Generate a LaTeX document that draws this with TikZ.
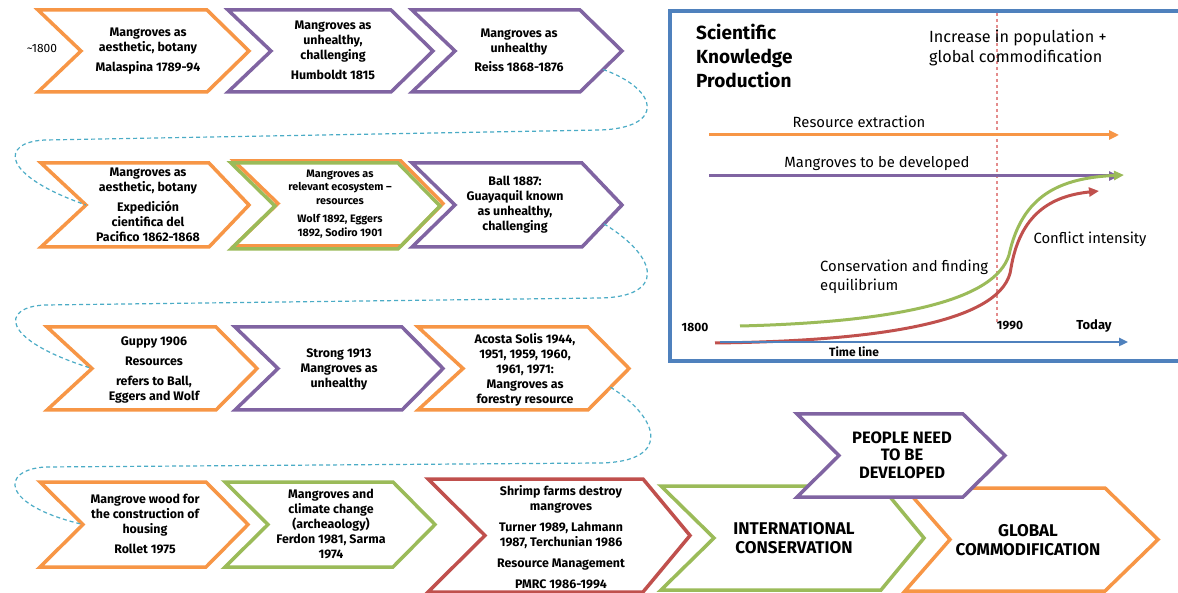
\documentclass[tikz,border=0pt]{standalone}
\usepackage{fontspec}
\setmainfont{Fira Sans}
\usetikzlibrary{arrows.meta,calc}
\definecolor{corange}{RGB}{247,150,70}
\definecolor{cpurple}{RGB}{128,100,162}
\definecolor{cgreen}{RGB}{155,187,89}
\definecolor{cred}{RGB}{192,80,77}
\definecolor{cblue}{RGB}{79,129,189}
\definecolor{cteal}{RGB}{75,172,198}
\definecolor{cdash}{RGB}{228,140,140}
% #1 name, #2 colour, #3 left x, #4 tip x, #5 top y, #6 bottom y, #7 notch depth, #8 tip depth
\newcommand\chv[8]{%
  \path[chevline,draw=#2] (#3,#5) -- ({#4-#8},#5) -- (#4,{(#5+#6)/2}) -- ({#4-#8},#6) -- (#3,#6) -- ({#3+#7},{(#5+#6)/2}) -- cycle;
  \coordinate (#1-notch) at ({#3+#7},{(#5+#6)/2});
  \coordinate (#1-tip) at (#4,{(#5+#6)/2});
  \coordinate (#1-corner) at ({#4-#8},#6);
}
\tikzset{
  chevline/.style={line width=3.5pt,fill=white,line join=miter},
  ctext/.style={align=center,inner sep=0pt,font=\fontsize{12.4}{15}\selectfont\bfseries},
  stext/.style={align=center,inner sep=0pt,font=\fontsize{10.8}{13.5}\selectfont\bfseries},
  btext/.style={align=center,inner sep=0pt,font=\fontsize{17}{19.5}\selectfont\bfseries},
  conn/.style={cteal,line width=1.2pt,dash pattern=on 4pt off 3pt},
  boxlab/.style={inner sep=0pt,font=\fontsize{14.8}{19}\selectfont},
  flow/.style={line width=3pt,-{Triangle[length=10pt,width=9pt]}},
}
\begin{document}
\begin{tikzpicture}[x=1pt,y=-1pt]
\useasboundingbox (0,0) rectangle (1178,593);
\fill[white] (0,0) rectangle (1178,593);

% ---------- row 1
\chv{r1a}{corange}{38}{249}{10}{92}{43}{42}
\chv{r1b}{cpurple}{228}{433}{10}{92}{43}{42}
\chv{r1c}{cpurple}{412}{622}{10}{92}{43}{42}
\node[inner sep=0pt,font=\fontsize{12}{13}\selectfont] (start) at (42,49) {\textasciitilde1800};
\node[ctext] (t1a) at (148,51) {Mangroves as\\aesthetic, botany\\[5pt]Malaspina 1789-94};
\node[ctext] (t1b) at (333,50) {Mangroves as\\unhealthy,\\challenging\\[5pt]Humboldt 1815};
\node[ctext] (t1c) at (519,50) {Mangroves as\\unhealthy\\[4pt]Reiss 1868-1876};

% ---------- row 2
\chv{r2a}{corange}{41}{249}{163}{247}{45}{40}
\chv{r2bs}{corange}{234}{443}{161}{246}{44}{42}
\draw[line width=3.5pt,cgreen,line join=miter] (231,163) -- (398,163) -- (440,206) -- (398,249) -- (231,249) -- (275,206) -- cycle;
\coordinate (r2b-notch) at (275,206);
\chv{r2c}{cpurple}{412}{622}{163}{247}{43}{40}
\node[ctext] (t2a) at (148,205) {Mangroves as\\aesthetic, botany\\[5pt]Expedición\\cientifica del\\Pacifico 1862-1868};
\node[stext] (t2b) at (340,204) {Mangroves as\\relevant ecosystem –\\resources\\[5pt]Wolf 1892, Eggers\\1892, Sodiro 1901};
\node[ctext] (t2c) at (515,205) {Ball 1887:\\Guayaquil known\\as unhealthy,\\challenging};

% ---------- row 3
\chv{r3a}{corange}{47}{257}{327}{410}{45}{41}
\chv{r3b}{cpurple}{235}{443}{327}{410}{43}{41}
\chv{r3c}{corange}{418}{629}{327}{410}{45}{41}
\node[ctext] (t3a) at (154,370) {Guppy 1906\\[5pt]Resources\\[5pt]refers to Ball,\\Eggers and Wolf};
\node[ctext] (t3b) at (339,369) {Strong 1913\\Mangroves as\\unhealthy};
\node[ctext] (t3c) at (525,370) {Acosta Solis 1944,\\1951, 1959, 1960,\\1961, 1971:\\Mangroves as\\forestry resource};

% ---------- row 4
\chv{r4a}{corange}{40}{248}{482}{567}{43}{42}
\chv{r4b}{cgreen}{225}{435}{482}{567}{43}{42}
\chv{r4c}{cred}{428}{690}{479}{592}{57}{47}
\chv{r4d}{cgreen}{661}{924}{486}{590}{53}{43}
\chv{r4e}{corange}{905}{1158}{488}{591}{45}{53}
\chv{r4f}{cpurple}{797}{1005}{414}{497}{42}{42}
\node[ctext] (t4a) at (145,524) {Mangrove wood for\\the construction of\\housing\\[5pt]Rollet 1975};
\node[ctext] (t4b) at (331,524) {Mangroves and\\climate change\\(archeaology)\\Ferdon 1981, Sarma\\1974};
\node[ctext] (t4c) at (561,537) {Shrimp farms destroy\\mangroves\\[6pt]Turner 1989, Lahmann\\1987, Terchunian 1986\\[6pt]Resource Management\\[6pt]PMRC 1986-1994};
\node[btext] (t4d) at (794,538) {INTERNATIONAL\\CONSERVATION};
\node[btext] (t4e) at (1028,540) {GLOBAL\\COMMODIFICATION};
\node[btext,font=\fontsize{16.5}{17.5}\selectfont\bfseries] (t4f) at (902,455) {PEOPLE NEED\\TO BE\\DEVELOPED};

% ---------- dashed connectors between rows
\coordinate (a1) at ($(r1c-corner)!0.55!(r1c-tip)$);
\coordinate (a2) at (600,130);
\coordinate (a3) at (45,140);
\draw[conn] (a1) .. controls (660,90) and (665,128) .. (a2) -- (a3) .. controls (0,142) and (0,175) .. (r2a-notch);
\coordinate (b1) at ($(r2c-corner)!0.55!(r2c-tip)$);
\coordinate (b2) at (600,298);
\coordinate (b3) at (45,305);
\draw[conn] (b1) .. controls (660,258) and (665,297) .. (b2) -- (b3) .. controls (0,307) and (0,340) .. (r3a-notch);
\coordinate (c1) at ($(r3c-corner)!0.55!(r3c-tip)$);
\coordinate (c2) at (600,463);
\coordinate (c3) at (45,467);
\draw[conn] (c1) .. controls (662,420) and (670,462) .. (c2) -- (c3) .. controls (0,470) and (0,505) .. (r4a-notch);

% ---------- right panel
\draw[cblue,line width=4pt] (670,11) rectangle (1195,361);
\draw[cdash,line width=1.3pt,dashed] (997,13) -- (997,322);
\node[anchor=west,align=left,inner sep=0pt,font=\fontsize{19}{24}\selectfont\bfseries] (title) at (696,56) {Scientific\\Knowledge\\Production};
\node[anchor=west,align=left,inner sep=0pt,font=\fontsize{16.2}{20.5}\selectfont] (incr) at (929,48) {Increase in population +\\global commodification};

\coordinate (o1) at (709,135); \coordinate (o2) at (1119,135);
\draw[flow,corange] (o1) -- (o2);
\node[boxlab] (lres) at (859,122) {Resource extraction};
\coordinate (p1) at (709,176); \coordinate (p2) at (1119,176);
\draw[flow,cpurple] (p1) -- (p2);
\node[boxlab] (ldev) at (877,164) {Mangroves to be developed};

\coordinate (g1) at (740,326); \coordinate (gm) at (1009,255); \coordinate (g2) at (1124,175);
\draw[flow,cgreen] (g1) .. controls (900,322) and (995,300) .. (gm) .. controls (1022,195) and (1060,178) .. (g2);
\coordinate (rr1) at (715,343); \coordinate (rm) at (1011,268); \coordinate (rr2) at (1099,191);
\draw[flow,cred] (rr1) .. controls (880,341) and (1005,322) .. (rm) .. controls (1020,215) and (1050,196) .. (rr2);

\coordinate (tl1) at (720,342); \coordinate (tl2) at (1128,342);
\draw[cblue,line width=2.5pt,-{Triangle[length=9pt,width=8pt]}] (tl1) -- (tl2);

\node[boxlab] (lconf) at (1090,239) {Conflict intensity};
\node[boxlab,anchor=west,align=left] (lcons) at (820,277) {Conservation and finding\\equilibrium};
\node[inner sep=0pt,font=\fontsize{12}{12}\selectfont\bfseries] (ltime) at (854,352) {Time line};
\node[inner sep=0pt,font=\fontsize{12}{12}\selectfont\bfseries] (l1800) at (695,327) {1800};
\node[inner sep=0pt,font=\fontsize{12}{12}\selectfont\bfseries] (l1990) at (1010,326) {1990};
\node[inner sep=0pt,font=\fontsize{13}{12}\selectfont\bfseries] (ltoday) at (1094,326) {Today};
\end{tikzpicture}
\end{document}
